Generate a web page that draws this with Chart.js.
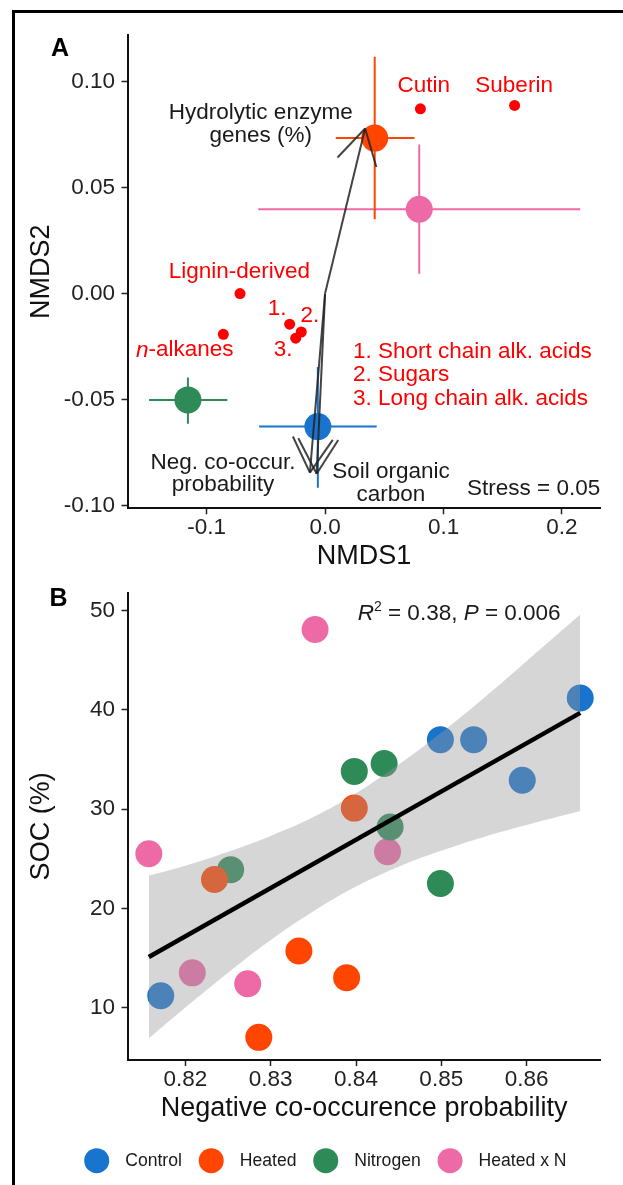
<!DOCTYPE html>
<html>
<head>
<meta charset="utf-8">
<title>NMDS and SOC</title>
<script src="https://cdn.jsdelivr.net/npm/chart.js@4.4.1/dist/chart.umd.min.js"></script>
<style>
  html, body { margin: 0; padding: 0; background: #fff; }
  #page { position: relative; width: 623px; height: 1185px; overflow: hidden; background: #fff; }
  #frame { position: absolute; left: 12px; top: 10px; width: 800px; height: 1400px;
           border-left: 3px solid #000; border-top: 3px solid #000; }
  canvas { position: absolute; left: 0; }
  #panelA { top: 0; }
  #panelB { top: 575px; }
</style>
</head>
<body>
<div id="page">
  <div id="frame"></div>
  <canvas id="panelA" width="623" height="580"></canvas>
  <canvas id="panelB" width="623" height="610"></canvas>
</div>
<script>
// ---- panel A: NMDS ordination ----
const groups = ['Control', 'Heated', 'Nitrogen', 'Heated x N'];
const groupColors = ['#1874cd', '#ff4500', '#2e8b57', '#ee6aa7'];

// treatment centroids and their error bars
const nmds1 = [-0.0061, 0.0419, -0.1158, 0.0795];
const nmds2 = [-0.0627, 0.0733, -0.0501, 0.0398];
const nmds1Lo = [-0.0557, 0.0090, -0.1486, -0.0564];
const nmds1Hi = [0.0436, 0.0755, -0.0825, 0.2154];
const nmds2Lo = [-0.0915, 0.0350, -0.0613, 0.0094];
const nmds2Hi = [-0.0346, 0.1116, -0.0396, 0.0703];

// compound classes (red dots)
const compounds = ['Cutin', 'Suberin', 'Lignin-derived', 'n-alkanes',
  'Short chain alk. acids', 'Sugars', 'Long chain alk. acids'];
const compX = [0.0805, 0.1600, -0.0718, -0.0859, -0.0299, -0.0201, -0.0248];
const compY = [0.0871, 0.0887, 0.0000, -0.0192, -0.0144, -0.0181, -0.0210];

// fitted vectors
const vectors = ['Hydrolytic enzyme genes (%)', 'Neg. co-occur. probability', 'Soil organic carbon'];
const vecX = [0.0338, -0.0128, -0.0071];
const vecY = [0.0778, -0.0844, -0.0849];

const nmds1Ticks = [-0.1, 0, 0.1, 0.2];
const nmds2Ticks = [-0.10, -0.05, 0, 0.05, 0.10];

// ---- panel B: SOC vs negative co-occurrence ----
const coocControl = [0.8663, 0.8499, 0.8538, 0.8595, 0.8171];
const socControl = [41.2, 37.0, 37.0, 32.9, 11.2];
const coocHeated = [0.8398, 0.8234, 0.8333, 0.8389, 0.8286];
const socHeated = [30.1, 22.9, 15.7, 13.0, 7.0];
const coocNitrogen = [0.8398, 0.8433, 0.8440, 0.8253, 0.8499];
const socNitrogen = [33.8, 34.6, 28.2, 23.9, 22.5];
const coocHxN = [0.8352, 0.8437, 0.8157, 0.8208, 0.8273];
const socHxN = [48.1, 25.7, 25.5, 13.5, 12.4];

const fitX = [0.8157, 0.8663];
const fitY = [15.1, 39.7];
const bandX = [0.8157, 0.82, 0.825, 0.83, 0.835, 0.84, 0.845, 0.85, 0.855, 0.86, 0.8663];
const bandHi = [23.3, 24.3, 25.7, 27.3, 29.2, 31.6, 34.5, 37.7, 41.2, 44.9, 49.6];
const bandLo = [6.9, 10.0, 13.5, 16.8, 19.7, 22.2, 24.2, 25.8, 27.2, 28.4, 29.8];

const coocTicks = [0.82, 0.83, 0.84, 0.85, 0.86];
const socTicks = [10, 20, 30, 40, 50];

const FONT = "'Liberation Sans', Arial, Helvetica, sans-serif";
const RED = '#ff0000';
const INK = '#1a1a1a';
const ARROW = 'rgba(35,35,35,0.85)';
Chart.defaults.font.family = FONT;
Chart.defaults.color = '#222';

const pts = (xs, ys) => xs.map((x, i) => ({ x, y: ys[i] }));

// draws a label made of pieces: '' normal, 'i' italic, 'sup' superscript
function putText(ctx, parts, x, y, align, color, size) {
  const fontFor = s => s === 'i' ? `italic ${size}px ${FONT}`
    : s === 'sup' ? `${size * 0.62}px ${FONT}` : `${size}px ${FONT}`;
  ctx.save();
  ctx.fillStyle = color;
  ctx.textBaseline = 'middle';
  ctx.textAlign = 'left';
  let w = 0;
  parts.forEach(([t, s]) => { ctx.font = fontFor(s); w += ctx.measureText(t).width; });
  let cx = align === 'center' ? x - w / 2 : align === 'right' ? x - w : x;
  parts.forEach(([t, s]) => {
    ctx.font = fontFor(s);
    ctx.fillText(t, cx, s === 'sup' ? y - size * 0.3 : y);
    cx += ctx.measureText(t).width;
  });
  ctx.restore();
}

const tickFont = { size: 22.5, lineHeight: 1 };
const titleFont = { size: 27, lineHeight: 1 };

function axis(o) {
  return {
    type: 'linear',
    min: o.min,
    max: o.max,
    afterBuildTicks: s => { s.ticks = o.ticks.map(v => ({ value: v })); },
    afterFit: s => {
      if (o.width) s.width = o.width;
      if (o.height) s.height = o.height;
    },
    ticks: { font: tickFont, color: '#222', padding: o.tickPad, callback: o.fmt },
    grid: { drawOnChartArea: false, drawTicks: true, tickLength: 6, tickWidth: 1.5, tickColor: '#222' },
    border: { display: true, color: '#111', width: 2 },
    title: { display: true, text: o.title, font: titleFont, color: '#111', padding: o.titlePad }
  };
}

// ---- panel A ----
const notesA = [
  { parts: [['Cutin', '']], x: 0.0834, y: 0.0979, align: 'center', color: RED },
  { parts: [['Suberin', '']], x: 0.1596, y: 0.0979, align: 'center', color: RED },
  { parts: [['Lignin-derived', '']], x: -0.0723, y: 0.0103, align: 'center', color: RED },
  { parts: [['n', 'i'], ['-alkanes', '']], x: -0.1185, y: -0.0267, align: 'center', color: RED },
  { parts: [['1.', '']], x: -0.0405, y: -0.0070, align: 'center', color: RED },
  { parts: [['2.', '']], x: -0.0129, y: -0.0105, align: 'center', color: RED },
  { parts: [['3.', '']], x: -0.0355, y: -0.0267, align: 'center', color: RED },
  { parts: [['1. Short chain alk. acids', '']], x: 0.0235, y: -0.0276, align: 'left', color: RED },
  { parts: [['2. Sugars', '']], x: 0.0235, y: -0.0382, align: 'left', color: RED },
  { parts: [['3. Long chain alk. acids', '']], x: 0.0235, y: -0.0496, align: 'left', color: RED },
  { parts: [['Hydrolytic enzyme', '']], x: -0.0543, y: 0.0854, align: 'center', color: INK },
  { parts: [['genes (%)', '']], x: -0.0543, y: 0.0744, align: 'center', color: INK },
  { parts: [['Neg. co-occur.', '']], x: -0.0861, y: -0.0797, align: 'center', color: INK },
  { parts: [['probability', '']], x: -0.0861, y: -0.0899, align: 'center', color: INK },
  { parts: [['Soil organic', '']], x: 0.0556, y: -0.0842, align: 'center', color: INK },
  { parts: [['carbon', '']], x: 0.0556, y: -0.0948, align: 'center', color: INK },
  { parts: [['Stress = 0.05', '']], x: 0.2323, y: -0.0921, align: 'right', color: INK }
];

const dsA = [];
groups.forEach((g, i) => {
  const bar = { type: 'line', borderColor: groupColors[i], borderWidth: 2, pointRadius: 0, order: 6 };
  dsA.push({ ...bar, label: g + ' NMDS1 range', data: pts([nmds1Lo[i], nmds1Hi[i]], [nmds2[i], nmds2[i]]) });
  dsA.push({ ...bar, label: g + ' NMDS2 range', data: pts([nmds1[i], nmds1[i]], [nmds2Lo[i], nmds2Hi[i]]) });
});
groups.forEach((g, i) => {
  dsA.push({ label: g, data: pts([nmds1[i]], [nmds2[i]]), pointRadius: 13.5,
    pointBackgroundColor: groupColors[i], pointBorderWidth: 0, order: 4 });
});
dsA.push({ label: 'Compounds', data: pts(compX, compY), pointRadius: 5.5,
  pointBackgroundColor: RED, pointBorderWidth: 0, order: 3 });
vectors.forEach((v, i) => {
  dsA.push({ type: 'line', label: v, data: pts([0, vecX[i]], [0, vecY[i]]),
    borderColor: ARROW, borderWidth: 2, pointRadius: 0, order: 1 });
});

const decorA = {
  id: 'decorA',
  afterDatasetsDraw(chart) {
    const { ctx, scales: { x, y } } = chart;
    // open arrowheads on the vectors
    const ox = x.getPixelForValue(0), oy = y.getPixelForValue(0);
    ctx.save();
    ctx.strokeStyle = ARROW;
    ctx.lineWidth = 2;
    vecX.forEach((vx, i) => {
      const tx = x.getPixelForValue(vx), ty = y.getPixelForValue(vecY[i]);
      const a = Math.atan2(oy - ty, ox - tx);
      [-1, 1].forEach(s => {
        const b = a + s * Math.PI / 6;
        ctx.beginPath();
        ctx.moveTo(tx + 40 * Math.cos(b), ty + 40 * Math.sin(b));
        ctx.lineTo(tx, ty);
        ctx.stroke();
      });
    });
    ctx.restore();
    notesA.forEach(n => putText(ctx, n.parts, x.getPixelForValue(n.x), y.getPixelForValue(n.y),
      n.align, n.color, 22.5));
    ctx.save();
    ctx.font = `bold 25px ${FONT}`;
    ctx.fillStyle = '#000';
    ctx.textAlign = 'center';
    ctx.textBaseline = 'middle';
    ctx.fillText('A', 60, 49);
    ctx.restore();
  }
};

new Chart(document.getElementById('panelA'), {
  type: 'scatter',
  data: { datasets: dsA },
  options: {
    responsive: false,
    animation: false,
    events: [],
    layout: { padding: { left: 0, right: 22.3, top: 35, bottom: 0 } },
    plugins: { legend: { display: false }, tooltip: { enabled: false } },
    scales: {
      x: axis({ min: -0.1668, max: 0.2327, ticks: nmds1Ticks, fmt: v => v.toFixed(1),
        title: 'NMDS1', height: 71.7, tickPad: 2.5, titlePad: { top: 0, bottom: 9.5 } }),
      y: axis({ min: -0.1012, max: 0.1219, ticks: nmds2Ticks, fmt: v => v.toFixed(2),
        title: 'NMDS2', width: 127.5, tickPad: 6.5, titlePad: { top: 28.2, bottom: 0 } })
    }
  },
  plugins: [decorA]
});

// ---- panel B ----
const groupX = [coocControl, coocHeated, coocNitrogen, coocHxN];
const groupY = [socControl, socHeated, socNitrogen, socHxN];

const dsB = [];
groups.forEach((g, i) => {
  dsB.push({ label: g, data: pts(groupX[i], groupY[i]), pointRadius: 13.5,
    pointBackgroundColor: groupColors[i], pointBorderWidth: 0, order: 3 });
});
dsB.push({ type: 'line', label: 'CI upper', data: pts(bandX, bandHi), fill: '+1',
  backgroundColor: 'rgba(153,153,153,0.4)', borderColor: 'rgba(0,0,0,0)', borderWidth: 0,
  pointRadius: 0, tension: 0.4, order: 2 });
dsB.push({ type: 'line', label: 'CI lower', data: pts(bandX, bandLo), fill: false,
  borderColor: 'rgba(0,0,0,0)', borderWidth: 0, pointRadius: 0, tension: 0.4, order: 2 });
dsB.push({ type: 'line', label: 'Linear fit', data: pts(fitX, fitY), borderColor: '#000',
  borderWidth: 4.5, pointRadius: 0, order: 1 });

const decorB = {
  id: 'decorB',
  afterDraw(chart) {
    const { ctx, scales: { x, y } } = chart;
    putText(ctx, [['R', 'i'], ['2', 'sup'], [' = 0.38, ', ''], ['P', 'i'], [' = 0.006', '']],
      x.getPixelForValue(0.8521), y.getPixelForValue(49.67), 'center', INK, 22.5);
    ctx.save();
    ctx.font = `bold 25px ${FONT}`;
    ctx.fillStyle = '#000';
    ctx.textAlign = 'center';
    ctx.textBaseline = 'middle';
    ctx.fillText('B', 58.6, 24);
    // legend
    ctx.font = `17.6px ${FONT}`;
    ctx.textAlign = 'left';
    let cx = 96.7;
    const cy = 585.7;
    groups.forEach((g, i) => {
      ctx.fillStyle = groupColors[i];
      ctx.beginPath();
      ctx.arc(cx, cy, 12.5, 0, Math.PI * 2);
      ctx.fill();
      ctx.fillStyle = INK;
      ctx.fillText(g, cx + 28.5, cy);
      cx += 28.5 + ctx.measureText(g).width + 29.3;
    });
    ctx.restore();
  }
};

new Chart(document.getElementById('panelB'), {
  type: 'scatter',
  data: { datasets: dsB },
  options: {
    responsive: false,
    animation: false,
    events: [],
    layout: { padding: { left: 0, right: 22.3, top: 12, bottom: 60 } },
    plugins: { legend: { display: false }, tooltip: { enabled: false } },
    scales: {
      x: axis({ min: 0.8132, max: 0.8687, ticks: coocTicks, fmt: v => v.toFixed(2),
        title: 'Negative co-occurence probability', height: 65, tickPad: 2.5,
        titlePad: { top: 0, bottom: 2.5 } }),
      y: axis({ min: 4.72, max: 51.8, ticks: socTicks, fmt: v => String(v),
        title: 'SOC (%)', width: 127.5, tickPad: 6.5, titlePad: { top: 28.2, bottom: 0 } })
    }
  },
  plugins: [decorB]
});
</script>
</body>
</html>
